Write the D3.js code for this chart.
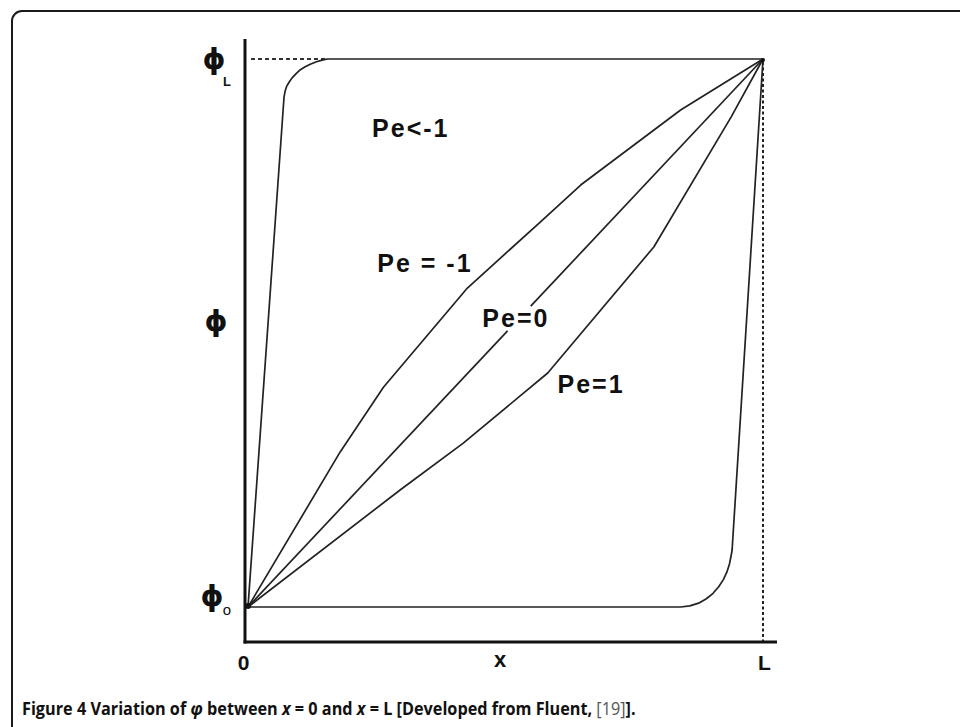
<!DOCTYPE html>
<html>
<head>
<meta charset="utf-8">
<script src="https://cdn.jsdelivr.net/npm/d3@7"></script>
<style>
  html, body { margin: 0; padding: 0; background: #fff; }
  svg { display: block; }
</style>
</head>
<body>
<svg id="chart" width="960" height="727"></svg>
<script>
// ---- Data (x in units of L, phi normalised between phi0 = 0 and phiL = 1) ----
const xTickLabels = ["0", "L"];
const xTickValues = [0, 1];
const yLabels = ["\u03D5", "\u03D5", "\u03D5"];

const peLessMinus1 = [ // Pe < -1
  [0, 0], [0.070, 0.931], [0.072, 0.941], [0.075, 0.950], [0.080, 0.958],
  [0.086, 0.966], [0.093, 0.973], [0.101, 0.980], [0.111, 0.986],
  [0.122, 0.991], [0.133, 0.995], [0.144, 0.998], [0.154, 1], [1, 1]
];
const peMinus1 = [
  [0, 0], [0.179, 0.283], [0.263, 0.401], [0.426, 0.582], [0.568, 0.703],
  [0.646, 0.770], [0.840, 0.907], [1, 1]
];
const peZeroA = [[0, 0], [0.504, 0.504]];
const peZeroB = [[0.549, 0.549], [1, 1]];
const pePlus1 = [
  [0, 0], [0.296, 0.214], [0.418, 0.299], [0.582, 0.427], [0.788, 0.657],
  [0.938, 0.894], [1, 1]
];
const peGreater1 = [ // Pe > 1 (unlabelled)
  [0, 0], [0.840, 0], [0.858, 0.002], [0.875, 0.007], [0.890, 0.015],
  [0.903, 0.025], [0.914, 0.037], [0.923, 0.050], [0.930, 0.064],
  [0.935, 0.079], [0.938, 0.093], [0.940, 0.104], [1, 1]
];
const curveLabels = [
  { text: "Pe<-1",   x: 0.241, y: 0.858 },
  { text: "Pe = -1", x: 0.251, y: 0.611 },
  { text: "Pe=0",    x: 0.455, y: 0.511 },
  { text: "Pe=1",    x: 0.601, y: 0.391 }
];

// ---- Layout ----
const svg = d3.select("#chart");
const x = d3.scaleLinear().domain([0, 1]).range([248, 763]);
const y = d3.scaleLinear().domain([0, 1]).range([607, 59]);
const axisX = 245, axisY = 642;

// figure frame (rounded, open to the right/bottom)
svg.append("path")
  .attr("d", "M12,740 L12,21 A10,10 0 0 1 22,11 L970,11")
  .attr("fill", "none").attr("stroke", "#1a1a1a").attr("stroke-width", 2);

// dotted guides
svg.append("line")
  .attr("x1", axisX + 6).attr("x2", x(0.154))
  .attr("y1", y(1)).attr("y2", y(1))
  .attr("stroke", "#333").attr("stroke-width", 1.8).attr("stroke-dasharray", "4,3");
svg.append("line")
  .attr("x1", x(1)).attr("x2", x(1))
  .attr("y1", y(1) + 3).attr("y2", axisY)
  .attr("stroke", "#222").attr("stroke-width", 2).attr("stroke-dasharray", "3,2.5");

// curves
const line = d3.line().x(d => x(d[0])).y(d => y(d[1])).curve(d3.curveLinear);
[peLessMinus1, peMinus1, peZeroA, peZeroB, pePlus1, peGreater1].forEach(s => {
  svg.append("path").datum(s).attr("d", line)
    .attr("fill", "none").attr("stroke", "#222").attr("stroke-width", 1.7)
    .attr("stroke-linejoin", "round");
});
// dark blobs at the ends
svg.append("circle").attr("cx", x(0)).attr("cy", y(0) - 1).attr("r", 3).attr("fill", "#111");
svg.append("circle").attr("cx", x(1)).attr("cy", y(1) + 1).attr("r", 2).attr("fill", "#111");

// axes
svg.append("line").attr("x1", axisX).attr("x2", axisX).attr("y1", 39).attr("y2", axisY + 1.5)
  .attr("stroke", "#111").attr("stroke-width", 3);
svg.append("line").attr("x1", axisX - 1.5).attr("x2", 777).attr("y1", axisY).attr("y2", axisY)
  .attr("stroke", "#111").attr("stroke-width", 3);

// x tick labels via axis generator
const xAxis = d3.axisBottom(x).tickValues(xTickValues).tickSize(0)
  .tickFormat((d, i) => xTickLabels[i]);
const gx = svg.append("g").attr("transform", `translate(0,${axisY})`).call(xAxis);
gx.select(".domain").remove();
gx.selectAll("text")
  .attr("font-family", "Liberation Sans, Arial, sans-serif")
  .attr("font-weight", "bold").attr("font-size", 21).attr("fill", "#111")
  .attr("dy", null).attr("y", 28)
  .attr("dx", (d, i) => i === 0 ? -5 : 1);

svg.append("text").text("x")
  .attr("x", 500).attr("y", 667).attr("text-anchor", "middle")
  .attr("font-family", "Liberation Sans, Arial, sans-serif")
  .attr("font-weight", "bold").attr("font-size", 22).attr("fill", "#111");

// phi labels
const phiFont = "DejaVu Sans, sans-serif";
const phiPos = [
  { x: 214, y: 69, sub: "L", sx: 227, sy: 86 },
  { x: 216, y: 331, sub: null },
  { x: 212, y: 606, sub: "o", sx: 227, sy: 615 }
];
phiPos.forEach((p, i) => {
  svg.append("text").text(yLabels[i])
    .attr("x", p.x).attr("y", p.y).attr("text-anchor", "middle")
    .attr("font-family", phiFont).attr("font-weight", "bold")
    .attr("font-size", 29).attr("fill", "#111");
  if (p.sub) {
    svg.append("text").text(p.sub)
      .attr("x", p.sx).attr("y", p.sy).attr("text-anchor", "middle")
      .attr("font-family", "Liberation Sans, Arial, sans-serif")
      .attr("font-weight", p.sub === "L" ? "bold" : "normal")
      .attr("font-size", p.sub === "L" ? 13 : 15).attr("fill", "#111");
  }
});

// curve labels
svg.selectAll("text.curve-label").data(curveLabels).enter().append("text")
  .attr("class", "curve-label")
  .attr("x", d => x(d.x)).attr("y", d => y(d.y))
  .attr("font-family", "Liberation Sans, Arial, sans-serif")
  .attr("font-weight", "bold").attr("font-size", 25).attr("fill", "#111")
  .attr("letter-spacing", 2)
  .text(d => d.text);

// caption (condensed look: render then squeeze horizontally to the reference width)
const cap = svg.append("text").attr("x", 0).attr("y", 0)
  .attr("font-family", "Open Sans, Noto Sans, sans-serif")
  .attr("font-size", 17.5).attr("fill", "#111");
const parts = [
  ["Figure 4 Variation of ", "bold", "normal"],
  ["\u03C6", "bold", "italic"],
  [" between ", "bold", "normal"],
  ["x", "bold", "italic"],
  [" = 0 and ", "bold", "normal"],
  ["x", "bold", "italic"],
  [" = L [Developed from Fluent, ", "bold", "normal"],
  ["[19]", "normal", "normal"],
  ["].", "bold", "normal"]
];
parts.forEach(p => {
  cap.append("tspan").text(p[0]).attr("font-weight", p[1]).attr("font-style", p[2])
    .attr("fill", p[0] === "[19]" ? "#555" : "#111");
});
const w = cap.node().getComputedTextLength();
cap.attr("transform", `translate(22,715) scale(${614 / w},1)`);
</script>
</body>
</html>
